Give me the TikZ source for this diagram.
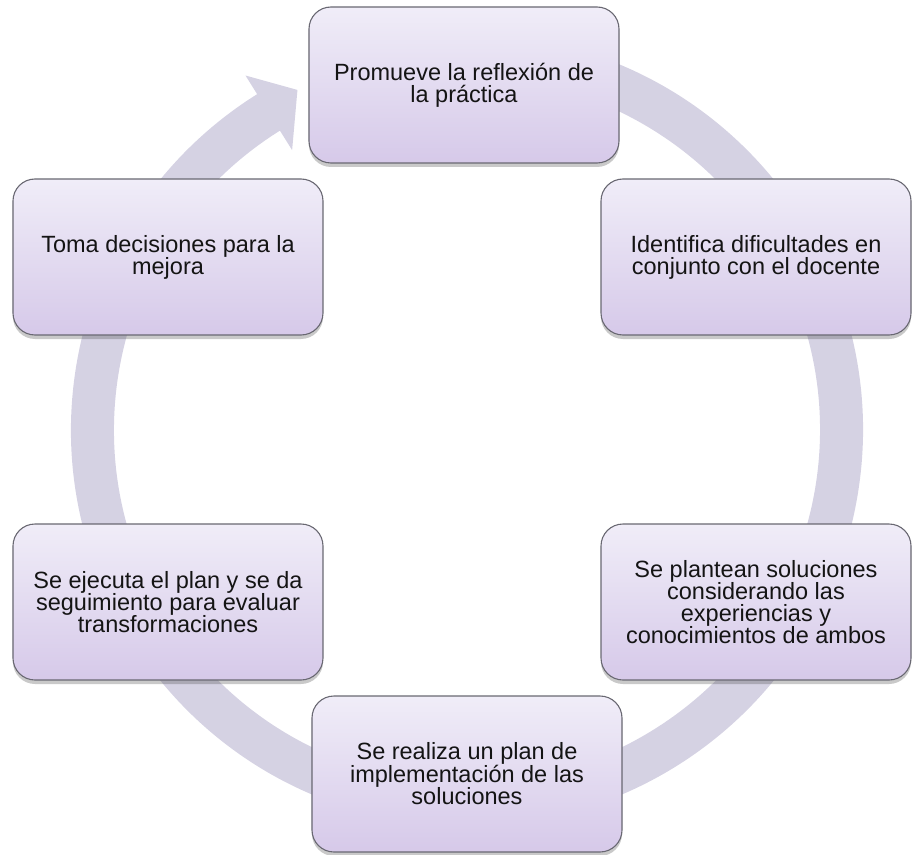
\documentclass[tikz,border=0pt]{standalone}
\usepackage{fontspec}
\setmainfont{Liberation Sans}
\usetikzlibrary{shadows}
\definecolor{ringcol}{RGB}{213,210,227}
\definecolor{boxtop}{RGB}{240,237,248}
\definecolor{boxbot}{RGB}{214,201,233}
\definecolor{boxline}{RGB}{105,104,114}
\definecolor{txt}{RGB}{20,20,20}
\tikzset{
  stepbox/.style={rectangle, rounded corners=22pt, minimum width=310pt, minimum height=156pt,
    top color=boxtop, bottom color=boxbot, draw=boxline, line width=1.1pt,
    align=center, text=txt,
    font=\fontsize{23.5pt}{22pt}\selectfont,
    drop shadow={shadow xshift=0pt, shadow yshift=-4pt, opacity=0.3, fill=black!70}},
  ringfill/.style={fill=ringcol}
}
\begin{document}
\begin{tikzpicture}[x=1pt,y=1pt]
\useasboundingbox (-467,-424) rectangle (445,430);
% circular arrow ring
\fill[ringfill] (80:396) arc[start angle=80, end angle=-238, radius=396]
  -- (-238:418) -- (-243.5:380) -- (-238:330) -- (-238:353)
  arc[start angle=-238, end angle=80, radius=353] -- cycle;
% boxes
\node[stepbox] (top) at (-3,345) {Promueve la reflexión de\\la práctica};
\node[stepbox] (ru) at (289,173) {Identifica dificultades en\\conjunto con el docente};
\node[stepbox] (rl) at (289,-172) {Se plantean soluciones\\considerando las\\experiencias y\\conocimientos de ambos};
\node[stepbox] (bot) at (0,-344) {Se realiza un plan de\\implementación de las\\soluciones};
\node[stepbox] (ll) at (-299,-172) {Se ejecuta el plan y se da\\seguimiento para evaluar\\transformaciones};
\node[stepbox] (lu) at (-299,173) {Toma decisiones para la\\mejora};
\end{tikzpicture}
\end{document}
